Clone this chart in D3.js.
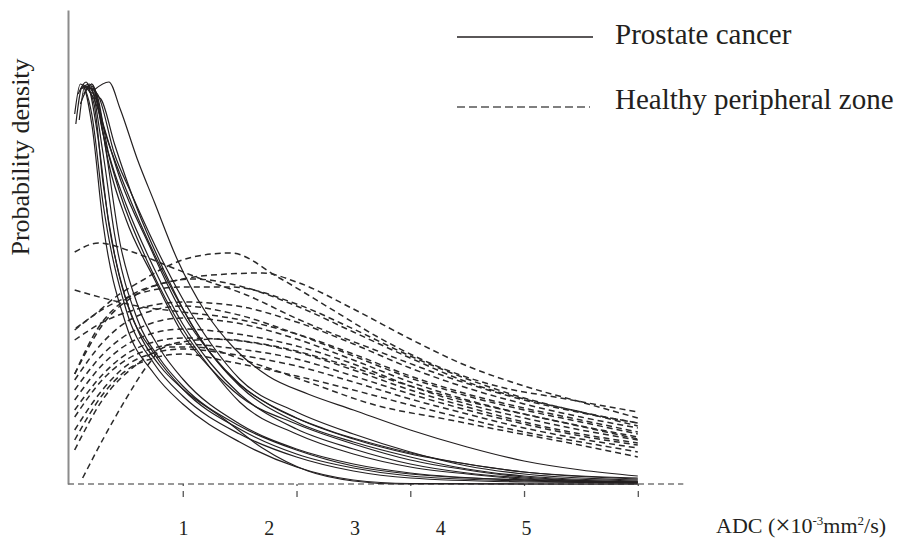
<!DOCTYPE html>
<html>
<head>
<meta charset="utf-8">
<script src="https://cdn.jsdelivr.net/npm/d3@7.9.0/dist/d3.min.js"></script>
<style>
  html, body { margin: 0; padding: 0; background: #fff; }
  svg { display: block; font-family: "Liberation Serif", "Times New Roman", serif; }
</style>
</head>
<body>
<svg id="chart" width="901" height="540"></svg>
<script>
// ── Data (ADC in 10^-3 mm²/s, probability density) ───────────────────────────

const xTicks = [1, 2, 3, 4, 5];
const xTickLabels = ['1', '2', '3', '4', '5'];
const legendLabels = ['Prostate cancer', 'Healthy peripheral zone'];
const yTitle = 'Probability density';

// prostate cancer histograms (solid)
const cancerCurves = [
  [[0.06,3.6],[0.12,3.98],[0.2,3.6],[0.3,2.6],[0.5,1.6],[0.75,1.1],[1.0,0.8],[1.5,0.42],[2.0,0.17],[2.5,0.04],[3.0,0.005],[4.0,0],[5.0,0]],
  [[0.05,3.7],[0.1,4.0],[0.2,3.7],[0.3,2.8],[0.5,1.75],[0.75,1.2],[1.0,0.88],[1.5,0.5],[2.0,0.27],[2.5,0.13],[3.0,0.06],[4.0,0.02],[5.0,0.01]],
  [[0.08,3.9],[0.15,4.02],[0.25,3.5],[0.35,2.6],[0.5,1.85],[0.75,1.3],[1.0,0.95],[1.5,0.55],[2.0,0.3],[2.5,0.16],[3.0,0.08],[4.0,0.03],[5.0,0.01]],
  [[0.1,3.95],[0.18,4.0],[0.3,3.3],[0.4,2.5],[0.6,1.65],[0.8,1.25],[1.0,0.98],[1.5,0.58],[2.0,0.34],[2.5,0.18],[3.0,0.1],[4.0,0.04],[5.0,0.02]],
  [[0.1,3.8],[0.2,4.0],[0.3,3.5],[0.45,2.4],[0.6,1.8],[0.8,1.35],[1.0,1.05],[1.5,0.6],[2.0,0.35],[2.5,0.2],[3.0,0.11],[4.0,0.04],[5.0,0.02]],
  [[0.09,3.64],[0.14,3.98],[0.22,3.8],[0.3,3.0],[0.4,2.3],[0.6,1.55],[0.8,1.18],[1.0,0.95],[1.35,0.66],[1.7,0.36],[2.1,0.13],[2.5,0.03],[2.9,0],[5.0,0]],
  [[0.22,3.94],[0.35,4.02],[0.45,3.75],[0.6,3.25],[0.75,2.82],[0.95,2.25],[1.2,1.72],[1.45,1.36],[1.75,1.08],[2.1,0.9],[2.5,0.74],[3.0,0.54],[3.5,0.37],[4.0,0.23],[4.5,0.14],[5.0,0.08]],
  [[0.15,3.98],[0.25,3.9],[0.4,3.3],[0.55,2.9],[0.75,2.4],[1.0,1.85],[1.25,1.4],[1.5,1.05],[2.0,0.72],[2.5,0.5],[3.0,0.32],[3.5,0.18],[4.0,0.1],[5.0,0.04]],
  [[0.12,4.0],[0.22,3.85],[0.35,3.4],[0.5,2.95],[0.75,2.3],[1.0,1.75],[1.25,1.3],[1.5,0.98],[2.0,0.62],[2.5,0.42],[3.0,0.27],[3.5,0.15],[4.0,0.08],[5.0,0.03]],
  [[0.14,3.96],[0.22,3.95],[0.35,3.3],[0.5,2.8],[0.75,2.15],[1.0,1.6],[1.25,1.2],[1.5,0.9],[2.0,0.55],[2.5,0.35],[3.0,0.2],[3.5,0.11],[4.0,0.06],[5.0,0.02]],
  [[0.16,4.0],[0.25,3.8],[0.35,3.2],[0.5,2.65],[0.75,2.05],[1.0,1.5],[1.25,1.15],[1.5,0.88],[2.0,0.6],[2.5,0.4],[3.0,0.24],[3.5,0.14],[4.0,0.07],[5.0,0.02]],
  [[0.1,3.95],[0.2,3.98],[0.3,3.5],[0.45,2.9],[0.7,2.2],[1.0,1.55],[1.25,1.15],[1.5,0.82],[2.0,0.5],[2.5,0.3],[3.0,0.17],[3.5,0.1],[4.0,0.05],[5.0,0.015]],
  [[0.13,3.9],[0.2,4.0],[0.3,3.6],[0.45,3.05],[0.7,2.4],[1.0,1.7],[1.25,1.3],[1.5,1.0],[2.0,0.66],[2.5,0.45],[3.0,0.3],[3.5,0.2],[4.0,0.12],[4.5,0.08],[5.0,0.06]],
  [[0.18,3.92],[0.28,3.85],[0.4,3.4],[0.6,2.75],[0.85,2.1],[1.1,1.55],[1.4,1.1],[1.75,0.8],[2.25,0.55],[2.75,0.38],[3.25,0.25],[4.0,0.12],[5.0,0.05]],
];

// healthy peripheral zone histograms (dashed)
const healthyCurves = [
  [[0.05,2.32],[0.26,2.41],[0.56,2.32],[0.85,2.19],[1.14,2.06],[1.56,1.89],[2.03,1.64],[2.69,1.34],[3.35,1.06],[4.0,0.84],[5.0,0.61]],
  [[0.06,1.56],[0.24,1.71],[0.41,1.87],[0.65,2.04],[0.85,2.17],[1.09,2.27],[1.42,2.31],[1.85,2.06],[2.29,1.76],[2.73,1.46],[3.17,1.21],[3.79,0.97],[4.32,0.86],[5.0,0.72]],
  [[0.05,1.1],[0.3,1.6],[0.6,1.9],[1.0,2.05],[1.4,2.1],[1.7,2.11],[2.0,2.02],[2.5,1.75],[3.0,1.45],[3.5,1.18],[4.0,0.98],[4.5,0.82],[5.0,0.66]],
  [[0.05,1.94],[0.3,1.86],[0.6,1.78],[1.0,1.72],[1.42,1.66],[2.0,1.5],[2.5,1.3],[3.0,1.08],[3.5,0.9],[4.0,0.76],[4.5,0.64],[5.0,0.52]],
  [[0.05,1.54],[0.3,1.75],[0.6,1.9],[1.0,1.97],[1.42,1.97],[2.0,1.8],[2.5,1.55],[3.0,1.28],[3.5,1.05],[4.0,0.86],[4.5,0.72],[5.0,0.61]],
  [[0.05,1.44],[0.3,1.62],[0.6,1.75],[1.0,1.82],[1.42,1.79],[2.0,1.62],[2.5,1.4],[3.0,1.16],[3.5,0.96],[4.0,0.8],[4.5,0.67],[5.0,0.56]],
  [[0.05,1.04],[0.3,1.42],[0.6,1.68],[1.0,1.78],[1.42,1.71],[2.0,1.5],[2.5,1.28],[3.0,1.06],[3.5,0.88],[4.0,0.74],[4.5,0.62],[5.0,0.5]],
  [[0.05,0.94],[0.3,1.3],[0.6,1.55],[1.0,1.66],[1.42,1.62],[2.0,1.45],[2.5,1.24],[3.0,1.02],[3.5,0.84],[4.0,0.7],[4.5,0.58],[5.0,0.47]],
  [[0.05,0.84],[0.3,1.2],[0.6,1.45],[1.0,1.55],[1.42,1.51],[2.0,1.38],[2.5,1.2],[3.0,0.98],[3.5,0.8],[4.0,0.66],[4.5,0.54],[5.0,0.44]],
  [[0.05,0.74],[0.3,1.1],[0.6,1.36],[1.0,1.46],[1.42,1.44],[2.0,1.32],[2.5,1.14],[3.0,0.94],[3.5,0.77],[4.0,0.62],[4.5,0.5],[5.0,0.41]],
  [[0.05,0.67],[0.3,1.05],[0.6,1.3],[1.0,1.4],[1.42,1.36],[2.0,1.25],[2.5,1.08],[3.0,0.9],[3.5,0.74],[4.0,0.6],[4.5,0.48],[5.0,0.39]],
  [[0.05,0.54],[0.3,0.95],[0.6,1.25],[1.0,1.35],[1.42,1.3],[2.0,1.18],[2.5,1.02],[3.0,0.85],[3.5,0.7],[4.0,0.56],[4.5,0.45],[5.0,0.36]],
  [[0.05,0.44],[0.3,0.9],[0.6,1.2],[1.0,1.3],[1.42,1.22],[2.0,1.08],[2.5,0.94],[3.0,0.79],[3.5,0.65],[4.0,0.52],[4.5,0.42],[5.0,0.32]],
  [[0.12,0.06],[0.3,0.45],[0.5,0.85],[0.7,1.2],[0.85,1.37],[1.1,1.37],[1.59,1.22],[2.1,1.02],[2.69,0.79],[3.35,0.64],[3.79,0.54],[4.4,0.41],[5.0,0.27]],
  [[0.05,0.34],[0.3,0.85],[0.6,1.2],[0.9,1.4],[1.3,1.45],[1.8,1.38],[2.4,1.2],[3.0,0.98],[3.6,0.8],[4.2,0.65],[5.0,0.45]],
  [[0.05,1.1],[0.25,1.55],[0.5,1.85],[0.8,2.0],[1.1,2.05],[1.5,1.98],[2.0,1.78],[2.5,1.52],[3.0,1.26],[3.5,1.02],[4.0,0.85],[4.5,0.72],[5.0,0.58]],
];

// ── Scales ────────────────────────────────────────────────────────────────────

const svg = d3.select('#chart');
const ink = '#231f20';

const x = d3.scaleLinear().domain([0, 5]).range([69, 637.8]);
const y = d3.scaleLinear().domain([0, 4.74]).range([484, 10]);
// the printed numbers sit off the tick marks in the original figure
const xLabelPos = d3.scaleLinear().domain([1, 5]).range([183, 526]);
const xAxisEnd = 5.4;

// ── Axes ──────────────────────────────────────────────────────────────────────

svg.append('g')
  .attr('transform', `translate(${x(0) - 1}, 0)`)
  .call(d3.axisLeft(y).tickValues([]).tickSizeOuter(0))
  .call((g) => g.select('.domain').attr('stroke', '#8c8c8c').attr('stroke-width', 2));

svg.append('line')
  .attr('x1', x(0) - 1).attr('x2', x(xAxisEnd))
  .attr('y1', y(0)).attr('y2', y(0))
  .attr('stroke', '#777').attr('stroke-width', 1.4)
  .attr('stroke-dasharray', '6,4');

svg.append('g')
  .attr('transform', `translate(0, ${y(0)})`)
  .call(d3.axisBottom(x).tickValues(xTicks).tickSize(13).tickFormat(''))
  .call((g) => g.select('.domain').remove())
  .call((g) => g.selectAll('.tick line')
    .attr('stroke', '#555').attr('stroke-width', 1.3)
    .attr('stroke-dasharray', '2,5,6,20'));

svg.append('g')
  .attr('transform', 'translate(0, 518)')
  .call(d3.axisBottom(xLabelPos).tickValues(xTicks).tickSize(0)
    .tickFormat((d, i) => xTickLabels[i]))
  .call((g) => g.select('.domain').remove())
  .call((g) => g.selectAll('.tick text')
    .attr('font-family', '"Liberation Serif", serif')
    .attr('font-size', 20).attr('fill', ink));

const xt = svg.append('text')
  .attr('x', 716).attr('y', 533)
  .attr('font-size', 22).attr('fill', ink);
xt.append('tspan').text('ADC (');
xt.append('tspan').attr('font-size', 27).attr('dy', 1).text('×');
xt.append('tspan').attr('dy', -1).text('10');
xt.append('tspan').attr('font-size', 13).attr('dy', -8).text('-3');
xt.append('tspan').attr('dy', 8).text('mm');
xt.append('tspan').attr('font-size', 13).attr('dy', -8).text('2');
xt.append('tspan').attr('dy', 8).text('/s)');

svg.append('text')
  .attr('transform', 'translate(29, 157) rotate(-90)')
  .attr('text-anchor', 'middle')
  .attr('font-size', 26).attr('fill', ink)
  .text(yTitle);

// ── Curves ────────────────────────────────────────────────────────────────────

const line = d3.line()
  .x((d) => x(d[0]))
  .y((d) => y(d[1]))
  .curve(d3.curveMonotoneX);

svg.append('g').attr('class', 'healthy')
  .selectAll('path')
  .data(healthyCurves)
  .join('path')
  .attr('d', line)
  .attr('fill', 'none')
  .attr('stroke', '#2a2a2a')
  .attr('stroke-width', 1.5)
  .attr('stroke-dasharray', '6,4');

svg.append('g').attr('class', 'cancer')
  .selectAll('path')
  .data(cancerCurves)
  .join('path')
  .attr('d', line)
  .attr('fill', 'none')
  .attr('stroke', ink)
  .attr('stroke-width', 1.2);

// ── Legend ────────────────────────────────────────────────────────────────────

const legend = svg.append('g');
const legendRows = [
  { label: legendLabels[0], ly: 37, ty: 44, dash: null, x2: 593 },
  { label: legendLabels[1], ly: 107, ty: 109, dash: '8,4', x2: 590 },
];
legendRows.forEach((r) => {
  legend.append('line')
    .attr('x1', 457).attr('x2', r.x2)
    .attr('y1', r.ly).attr('y2', r.ly)
    .attr('stroke', r.dash ? '#555' : ink)
    .attr('stroke-width', 1.5)
    .attr('stroke-dasharray', r.dash);
  legend.append('text')
    .attr('x', 615).attr('y', r.ty)
    .attr('font-size', 29).attr('fill', ink)
    .text(r.label);
});
</script>
</body>
</html>
